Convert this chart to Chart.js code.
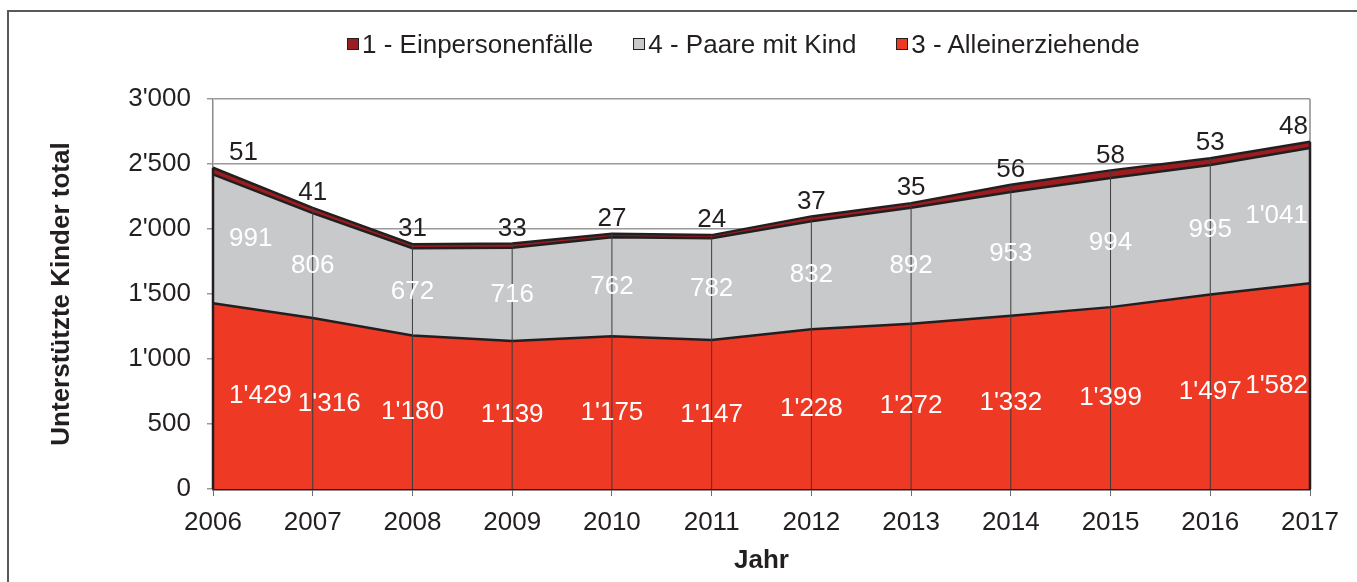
<!DOCTYPE html>
<html>
<head>
<meta charset="utf-8">
<script src="https://cdn.jsdelivr.net/npm/chart.js@4/dist/chart.umd.min.js"></script>
<style>
  html, body { margin: 0; padding: 0; background: #fff; overflow: hidden; }
  #wrap { position: relative; width: 1357px; height: 582px; }
  #frame { position: absolute; left: 7px; top: 10px; width: 1400px; height: 600px; border-left: 2px solid #58595b; border-top: 2px solid #58595b; }
  #legend { position: absolute; left: 347px; top: 29px; display: flex; font-family: "Liberation Sans", Arial, sans-serif; font-size: 26px; line-height: 30px; color: #231f20; }
  .item { display: flex; align-items: center; margin-right: 40px; }
  .box { width: 10px; height: 10px; border: 1.5px solid #231f20; margin-right: 3px; }
  canvas { position: absolute; left: 0; top: 0; }
</style>
</head>
<body>
<div id="wrap">
  <div id="frame"></div>
  <canvas id="areaChart" width="1357" height="582"></canvas>
  <div id="legend"></div>
</div>
<script>
const years = ['2006', '2007', '2008', '2009', '2010', '2011', '2012', '2013', '2014', '2015', '2016', '2017'];
const alleinerziehende = [1429, 1316, 1180, 1139, 1175, 1147, 1228, 1272, 1332, 1399, 1497, 1582];
const paareMitKind = [991, 806, 672, 716, 762, 782, 832, 892, 953, 994, 995, 1041];
const einpersonen = [51, 41, 31, 33, 27, 24, 37, 35, 56, 58, 53, 48];
const yTicks = [0, 500, 1000, 1500, 2000, 2500, 3000];

const textColor = '#231f20';
const frameGray = '#8a8b8d';
const fontFamily = '"Liberation Sans", Arial, sans-serif';

function fmt(v) {
  if (v >= 1000) {
    return Math.floor(v / 1000) + "'" + String(v % 1000).padStart(3, '0');
  }
  return String(v);
}

// plot border on the right + vertical lines from 0 to the top of the stack
const dropLines = {
  id: 'dropLines',
  beforeDatasetsDraw(chart) {
    const c = chart.ctx;
    const area = chart.chartArea;
    c.save();
    c.strokeStyle = frameGray;
    c.lineWidth = 1.5;
    c.beginPath();
    c.moveTo(area.right, area.top);
    c.lineTo(area.right, area.bottom);
    c.stroke();
    c.restore();
  },
  afterDatasetsDraw(chart) {
    const c = chart.ctx;
    const x = chart.scales.x;
    const y = chart.scales.y;
    const top = chart.getDatasetMeta(chart.data.datasets.length - 1);
    c.save();
    years.forEach((yr, i) => {
      const px = x.getPixelForValue(i);
      const edge = i === 0 || i === years.length - 1;
      c.strokeStyle = edge ? textColor : '#3c3c3c';
      c.lineWidth = edge ? 2.5 : 1;
      c.beginPath();
      c.moveTo(px, y.getPixelForValue(0));
      c.lineTo(px, top.data[i].y);
      c.stroke();
    });
    c.restore();
  }
};

const valueLabels = {
  id: 'valueLabels',
  afterDatasetsDraw(chart) {
    const c = chart.ctx;
    const area = chart.chartArea;
    const zero = chart.scales.y.getPixelForValue(0);
    c.save();
    c.font = '26px ' + fontFamily;
    c.textAlign = 'center';
    c.textBaseline = 'middle';
    chart.data.datasets.forEach((ds, d) => {
      const meta = chart.getDatasetMeta(d);
      const below = d > 0 ? chart.getDatasetMeta(d - 1) : null;
      let prevRight = -Infinity;
      ds.data.forEach((v, i) => {
        const txt = fmt(v);
        const w = c.measureText(txt).width;
        const pt = meta.data[i];
        let px = Math.max(pt.x, area.left + w / 2 + 16);
        px = Math.max(px, prevRight + w / 2 + 6);
        px = Math.min(px, area.right - w / 2 - 2);
        prevRight = px + w / 2;
        let py;
        if (d === chart.data.datasets.length - 1) {
          py = pt.y - 15;
          c.fillStyle = textColor;
        } else {
          const base = below ? below.data[i].y : zero;
          py = (pt.y + base) / 2;
          c.fillStyle = '#ffffff';
        }
        c.fillText(txt, px, py);
      });
    });
    c.restore();
  }
};

const ctx = document.getElementById('areaChart').getContext('2d');

const chart = new Chart(ctx, {
  type: 'line',
  data: {
    labels: years,
    datasets: [{
      label: '3 - Alleinerziehende',
      data: alleinerziehende,
      backgroundColor: '#ee3924',
      borderColor: textColor,
      borderWidth: 2.5,
      fill: 'origin'
    }, {
      label: '4 - Paare mit Kind',
      data: paareMitKind,
      backgroundColor: '#c8c9cb',
      borderColor: textColor,
      borderWidth: 2.5,
      fill: '-1'
    }, {
      label: '1 - Einpersonenfälle',
      data: einpersonen,
      backgroundColor: '#9d1c20',
      borderColor: textColor,
      borderWidth: 2.5,
      fill: '-1'
    }]
  },
  options: {
    responsive: false,
    animation: false,
    layout: {
      padding: { top: 99, right: 47, left: 0, bottom: 0 }
    },
    elements: {
      line: { tension: 0 },
      point: { radius: 0, hoverRadius: 0 }
    },
    scales: {
      x: {
        stacked: true,
        offset: false,
        afterFit(scale) { scale.height = 93; },
        border: { display: true, color: textColor, width: 2.5 },
        grid: { drawOnChartArea: false, drawTicks: true, tickLength: 7, color: '#6d6e71' },
        ticks: {
          color: textColor,
          padding: 11,
          maxRotation: 0,
          font: { family: fontFamily, size: 26 }
        },
        title: {
          display: true,
          text: 'Jahr',
          color: textColor,
          padding: { top: 0, bottom: 6 },
          font: { family: fontFamily, size: 26, weight: 'bold' }
        }
      },
      y: {
        stacked: true,
        min: 0,
        max: 3000,
        afterFit(scale) { scale.width = 213; },
        afterBuildTicks(scale) { scale.ticks = yTicks.map(v => ({ value: v })); },
        border: { display: true, color: frameGray, width: 1.5 },
        grid: { color: '#9a9a9a', lineWidth: 1.5, tickLength: 6 },
        ticks: {
          color: textColor,
          padding: 16,
          callback: (v) => fmt(v),
          font: { family: fontFamily, size: 26 }
        },
        title: {
          display: true,
          text: 'Unterstützte Kinder total',
          color: textColor,
          padding: { top: 46, bottom: 0 },
          font: { family: fontFamily, size: 26, weight: 'bold' }
        }
      }
    },
    plugins: {
      legend: { display: false },
      tooltip: { enabled: false }
    }
  },
  plugins: [dropLines, valueLabels]
});

// legend in the order of the original: top band first
const legendEl = document.getElementById('legend');
[2, 1, 0].forEach(d => {
  const ds = chart.data.datasets[d];
  const item = document.createElement('div');
  item.className = 'item';
  const box = document.createElement('span');
  box.className = 'box';
  box.style.background = ds.backgroundColor;
  const label = document.createElement('span');
  label.textContent = ds.label;
  item.appendChild(box);
  item.appendChild(label);
  legendEl.appendChild(item);
});
</script>
</body>
</html>
